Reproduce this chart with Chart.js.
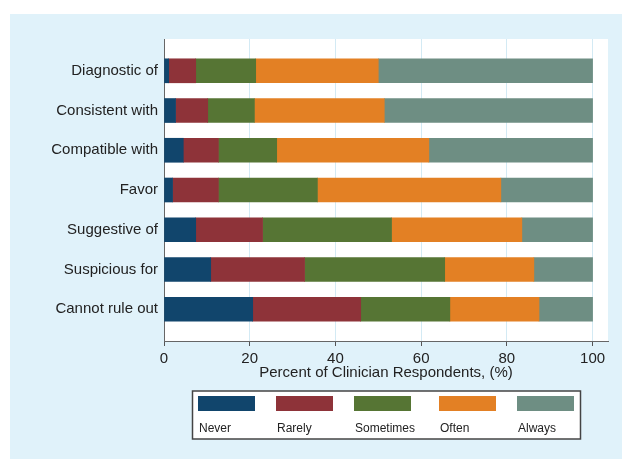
<!DOCTYPE html>
<html>
<head>
<meta charset="utf-8">
<script src="https://cdn.jsdelivr.net/npm/chart.js@4"></script>
<style>
  body { margin: 0; background: #ffffff; }
  #wrap { width: 622px; height: 459px; position: relative; }
</style>
</head>
<body>
<div id="wrap"><canvas id="chart"></canvas></div>
<script>
// categories, top to bottom
const categories = ['Diagnostic of', 'Consistent with', 'Compatible with', 'Favor',
  'Suggestive of', 'Suspicious for', 'Cannot rule out'];

// percent of respondents per answer
const never     = [1.1, 2.7, 4.5, 2.0, 7.4, 10.9, 20.7];
const rarely    = [6.3, 7.5, 8.2, 10.7, 15.6, 21.9, 25.2];
const sometimes = [14.0, 10.9, 13.6, 23.1, 30.1, 32.7, 20.8];
const often     = [28.6, 30.3, 35.5, 42.8, 30.4, 20.8, 20.8];
const always    = [50.0, 48.6, 38.2, 21.4, 16.5, 13.7, 12.5];

const xTicks = [0, 20, 40, 60, 80, 100];

const seriesNames = ['Never', 'Rarely', 'Sometimes', 'Often', 'Always'];
const seriesValues = [never, rarely, sometimes, often, always];
const colors = ['#11456c', '#8e3339', '#567534', '#e38024', '#6e8e83'];

Chart.defaults.font.family = "'Liberation Sans', Arial, sans-serif";
Chart.defaults.color = '#222';

// light blue panel + white plot region
const background = {
  id: 'background',
  beforeDraw(chart) {
    const { ctx, chartArea } = chart;
    ctx.save();
    ctx.fillStyle = '#ffffff';
    ctx.fillRect(0, 0, chart.width, chart.height);
    ctx.fillStyle = '#e0f2fa';
    ctx.fillRect(10, 14, chart.width - 10, chart.height - 14);
    ctx.fillStyle = '#ffffff';
    ctx.fillRect(chartArea.left, chartArea.top, chartArea.right - chartArea.left, chartArea.bottom - chartArea.top);
    ctx.restore();
  }
};

// stata style legend: swatch on top, label below, boxed
const boxLegend = {
  id: 'boxLegend',
  afterDraw(chart) {
    const ctx = chart.ctx;
    const cols = [198, 276, 354, 439, 517];
    ctx.save();
    ctx.fillStyle = '#ffffff';
    ctx.fillRect(192.5, 391, 388, 48);
    ctx.strokeStyle = '#444';
    ctx.lineWidth = 1.5;
    ctx.strokeRect(192.5, 391, 388, 48);
    chart.data.datasets.forEach((ds, i) => {
      ctx.fillStyle = ds.backgroundColor;
      ctx.fillRect(cols[i], 396, 57, 15);
      ctx.fillStyle = '#222';
      ctx.font = "12px 'Liberation Sans', Arial, sans-serif";
      ctx.textBaseline = 'alphabetic';
      ctx.fillText(ds.label, cols[i] + 1, 432);
    });
    ctx.restore();
  }
};

const ctx = document.getElementById('chart').getContext('2d');

new Chart(ctx, {
  type: 'bar',
  data: {
    datasets: seriesNames.map((name, s) => ({
      label: name,
      backgroundColor: colors[s],
      borderWidth: 0,
      barThickness: 24,
      data: seriesValues[s].map((v, i) => ({ x: v, y: i })),
    })),
  },
  options: {
    indexAxis: 'y',
    responsive: true,
    maintainAspectRatio: false,
    animation: false,
    layout: { padding: { left: 0, right: 14, top: 39, bottom: 77 } },
    plugins: {
      legend: { display: false },
      tooltip: { enabled: false },
    },
    scales: {
      x: {
        type: 'linear',
        stacked: true,
        min: 0,
        max: 103.6,
        afterBuildTicks: (s) => { s.ticks = xTicks.map((v) => ({ value: v })); },
        afterFit: (s) => { s.height = 41; },
        grid: {
          color: (c) => (c.tick && c.tick.value === 0 ? 'rgba(0,0,0,0)' : '#d3eaf4'),
          lineWidth: 1,
          drawTicks: true,
          tickLength: 5,
          tickColor: '#555',
        },
        border: { display: true, color: '#666', width: 1 },
        ticks: { font: { size: 15 }, padding: 4, color: '#222', maxRotation: 0 },
        title: {
          display: true,
          text: 'Percent of Clinician Respondents, (%)',
          font: { size: 15 },
          color: '#222',
          padding: { top: 0, bottom: 0 },
        },
      },
      y: {
        type: 'linear',
        stacked: true,
        reverse: true,
        offset: false,
        min: -0.8,
        max: 6.8,
        afterBuildTicks: (s) => { s.ticks = categories.map((c, i) => ({ value: i })); },
        afterFit: (s) => { s.width = 164; },
        grid: { display: false, drawTicks: false, offset: false },
        border: { display: true, color: '#666', width: 1 },
        ticks: {
          font: { size: 15 },
          padding: 6,
          color: '#222',
          callback: (v) => categories[v],
        },
      },
    },
  },
  plugins: [background, boxLegend],
});
</script>
</body>
</html>
